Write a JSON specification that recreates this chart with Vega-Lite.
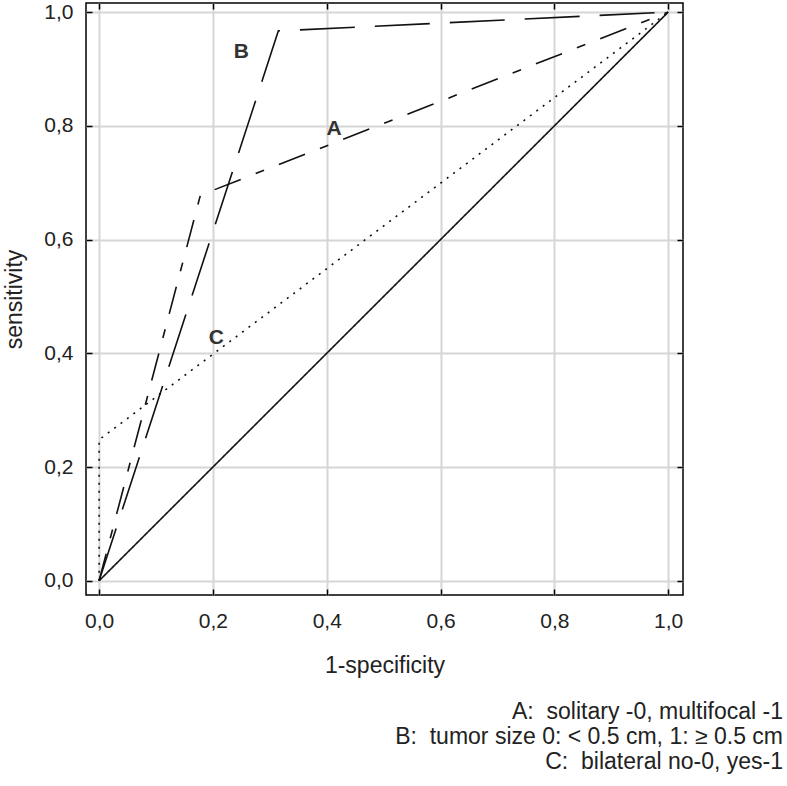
{
  "$schema": "https://vega.github.io/schema/vega-lite/v6.json",
  "width": 597,
  "height": 592,
  "autosize": "none",
  "padding": {"left": 86, "top": 3, "right": 104, "bottom": 191},
  "background": "white",
  "config": {
    "view": {"stroke": "#000000", "strokeWidth": 1.5},
    "font": "Liberation Sans",
    "axis": {
      "labelFont": "Liberation Sans",
      "titleFont": "Liberation Sans",
      "labelFontSize": 21,
      "titleFontSize": 23,
      "titleFontWeight": "normal",
      "labelColor": "#222222",
      "titleColor": "#222222",
      "domain": false,
      "tickColor": "#000000",
      "tickWidth": 1.5
    }
  },
  "title": {
    "text": ["A:\u00a0\u00a0solitary\u00a0-0,\u00a0multifocal\u00a0-1", "B:\u00a0\u00a0tumor\u00a0size\u00a00:\u00a0<\u00a00.5\u00a0cm,\u00a01:\u00a0≥\u00a00.5\u00a0cm", "C:\u00a0\u00a0bilateral\u00a0no-0,\u00a0yes-1"],
    "orient": "bottom",
    "anchor": "end",
    "align": "right",
    "frame": "group",
    "dx": 100,
    "offset": 24,
    "fontSize": 23,
    "fontWeight": "normal",
    "color": "#222222",
    "font": "Liberation Sans",
    "lineHeight": 25
  },
  "datasets": {
    "curves": [
      {"series": "A", "order": 0, "x": 0.0, "y": 0.0},
      {"series": "A", "order": 1, "x": 0.178, "y": 0.678},
      {"series": "A", "order": 2, "x": 1.0, "y": 1.0},
      {"series": "B", "order": 0, "x": 0.0, "y": 0.0},
      {"series": "B", "order": 1, "x": 0.315, "y": 0.967},
      {"series": "B", "order": 2, "x": 1.0, "y": 1.0},
      {"series": "C", "order": 0, "x": 0.0, "y": 0.0},
      {"series": "C", "order": 1, "x": 0.0, "y": 0.248},
      {"series": "C", "order": 2, "x": 1.0, "y": 1.0},
      {"series": "D", "order": 0, "x": 0.0, "y": 0.0},
      {"series": "D", "order": 1, "x": 1.0, "y": 1.0}
    ],
    "labels": [
      {"label": "A", "x": 0.413, "y": 0.795},
      {"label": "B", "x": 0.25, "y": 0.93},
      {"label": "C", "x": 0.206, "y": 0.427}
    ]
  },
  "layer": [
    {
      "data": {"name": "curves"},
      "mark": {"type": "line", "color": "#111111", "strokeCap": "butt"},
      "encoding": {
        "x": {
          "field": "x", "type": "quantitative",
          "scale": {"domain": [-0.023, 1.026], "nice": false, "zero": false},
          "axis": {
            "orient": "bottom",
            "values": [0, 0.2, 0.4, 0.6, 0.8, 1.0],
            "labelExpr": "replace(format(datum.value, '.1f'), '.', ',')",
            "tickSize": -6,
            "labelPadding": 21,
            "title": "1-specificity",
            "titlePadding": 23,
            "grid": true,
            "gridColor": "#d6d6d6",
            "gridWidth": 2
          }
        },
        "y": {
          "field": "y", "type": "quantitative",
          "scale": {"domain": [-0.025, 1.016], "nice": false, "zero": false},
          "axis": {
            "orient": "left",
            "values": [0, 0.2, 0.4, 0.6, 0.8, 1.0],
            "labelExpr": "replace(format(datum.value, '.1f'), '.', ',')",
            "tickSize": -6,
            "labelPadding": 19,
            "title": "sensitivity",
            "titlePadding": 17,
            "grid": true,
            "gridColor": "#d6d6d6",
            "gridWidth": 2
          }
        },
        "order": {"field": "order", "type": "quantitative"},
        "detail": {"field": "series"},
        "strokeDash": {
          "field": "series", "type": "nominal",
          "scale": {"domain": ["A", "B", "C", "D"], "range": [[28, 16, 9, 16], [55, 20], [2, 6], [1, 0]]},
          "legend": null
        },
        "strokeWidth": {
          "field": "series", "type": "nominal",
          "scale": {"domain": ["A", "B", "C", "D"], "range": [1.6, 1.6, 1.6, 1.2]},
          "legend": null
        }
      }
    },
    {
      "data": {"name": "curves"},
      "mark": {"type": "point", "opacity": 0},
      "encoding": {
        "x": {
          "field": "x", "type": "quantitative",
          "axis": {
            "orient": "top",
            "values": [0, 0.2, 0.4, 0.6, 0.8, 1.0],
            "labels": false,
            "tickSize": -6,
            "title": null,
            "grid": false
          }
        },
        "y": {
          "field": "y", "type": "quantitative",
          "axis": {
            "orient": "right",
            "values": [0, 0.2, 0.4, 0.6, 0.8, 1.0],
            "labels": false,
            "tickSize": -6,
            "title": null,
            "grid": false
          }
        }
      }
    },
    {
      "data": {"name": "labels"},
      "mark": {"type": "text", "fontSize": 21, "fontWeight": "bold", "color": "#333333", "font": "Liberation Sans"},
      "encoding": {
        "x": {"field": "x", "type": "quantitative", "axis": null},
        "y": {"field": "y", "type": "quantitative", "axis": null},
        "text": {"field": "label"}
      }
    }
  ],
  "resolve": {"axis": {"x": "independent", "y": "independent"}}
}
